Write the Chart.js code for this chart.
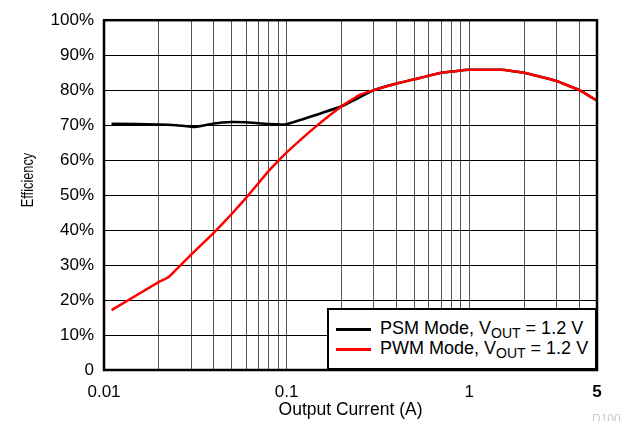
<!DOCTYPE html>
<html>
<head>
<meta charset="utf-8">
<script src="https://cdn.jsdelivr.net/npm/chart.js@4"></script>
<style>
  body { margin: 0; background: #fff; overflow: hidden; }
  #wrap { position: relative; width: 629px; height: 421px; font-family: "Liberation Sans", Arial, sans-serif; }
  #legend {
    position: absolute; left: 327px; top: 308px; width: 270px; height: 62px;
    border: 2px solid #000; background: #fff; padding-top: 8px; box-sizing: border-box;
  }
  .row { height: 20px; line-height: 20px; font-size: 18px; color: #000; white-space: nowrap; }
  .swatch { display: inline-block; width: 35px; height: 2.5px; margin-left: 7px; margin-right: 9px; vertical-align: middle; }
  .row sub { font-size: 14px; vertical-align: -4px; line-height: 0; }
  #tag { position: absolute; left: 592px; top: 412px; font-size: 12px; color: #c8c8c8; }
</style>
</head>
<body>
<div id="wrap">
  <canvas id="c" width="629" height="421"></canvas>
  <div id="legend">
    <div class="row"><span class="swatch" style="background:#000"></span><span>PSM Mode, V<sub>OUT</sub> = 1.2 V</span></div>
    <div class="row"><span class="swatch" style="background:#ff0000"></span><span>PWM Mode, V<sub>OUT</sub> = 1.2 V</span></div>
  </div>
  <span id="tag">D100</span>
</div>
<script>
// output current (A) and efficiency (%)
const psmCurrent = [0.011, 0.02, 0.025, 0.0315, 0.04, 0.05, 0.06, 0.08, 0.1, 0.2, 0.3, 0.4, 0.5, 0.7, 1, 1.5, 2, 3, 4, 5];
const psmEff =     [70.4, 70.2, 70.0, 69.5, 70.5, 70.9, 70.8, 70.3, 70.3, 75.4, 80.0, 81.9, 83.1, 85.0, 85.8, 85.8, 85.0, 82.6, 80.0, 77.0];

const pwmCurrent = [0.011, 0.02, 0.0225, 0.03, 0.04, 0.05, 0.06, 0.07, 0.08, 0.09, 0.1, 0.14, 0.2, 0.25, 0.3, 0.4, 0.5, 0.7, 1, 1.5, 2, 3, 4, 5];
const pwmEff =     [17.1, 25.2, 26.5, 33.0, 39.3, 44.6, 49.2, 53.4, 57.0, 59.8, 62.2, 69.0, 75.4, 78.6, 80.0, 81.9, 83.1, 85.0, 85.8, 85.8, 85.0, 82.6, 80.0, 77.0];

const xGrid = [0.01, 0.02, 0.03, 0.04, 0.05, 0.06, 0.07, 0.08, 0.09, 0.1, 0.2, 0.3, 0.4, 0.5, 0.6, 0.7, 0.8, 0.9, 1, 2, 3, 4, 5];
const xLabels = { 0.01: "0.01", 0.1: "0.1", 1: "1", 5: "5" };

const FONT = "'Liberation Sans', Arial, sans-serif";

const frame = {
  id: "frame",
  afterDatasetsDraw(chart) {
    const { ctx, chartArea: a } = chart;
    ctx.save();
    ctx.strokeStyle = "#000";
    ctx.lineWidth = 2.5;
    ctx.strokeRect(a.left, a.top, a.right - a.left, a.bottom - a.top);
    // y axis title: narrow lettering, a bit above the plot centre like the original
    ctx.translate(29, 180);
    ctx.rotate(-Math.PI / 2);
    ctx.scale(0.8, 1);
    ctx.fillStyle = "#000";
    ctx.font = "16px " + FONT;
    ctx.textAlign = "center";
    ctx.textBaseline = "middle";
    ctx.fillText("Efficiency", 0, 0);
    ctx.restore();
  }
};

new Chart(document.getElementById("c"), {
  type: "line",
  data: {
    datasets: [
      {
        label: "PWM Mode",
        data: pwmCurrent.map((x, i) => ({ x, y: pwmEff[i] })),
        borderColor: "#ff0000",
        borderWidth: 2.5,
        pointRadius: 0,
        tension: 0.1,
        order: 0,
      },
      {
        label: "PSM Mode",
        data: psmCurrent.map((x, i) => ({ x, y: psmEff[i] })),
        borderColor: "#000",
        borderWidth: 2.5,
        pointRadius: 0,
        tension: 0.1,
        order: 1,
      },
    ],
  },
  options: {
    responsive: false,
    animation: false,
    layout: { padding: { top: 19, right: 32, left: 0, bottom: 0 } },
    plugins: { legend: { display: false }, tooltip: { enabled: false } },
    scales: {
      x: {
        type: "logarithmic",
        min: 0.01,
        max: 5,
        afterBuildTicks: (s) => { s.ticks = xGrid.map((v) => ({ value: v })); },
        afterFit: (s) => { s.height = 51; },
        grid: { color: "#555", lineWidth: 1, drawTicks: false },
        border: { display: false },
        ticks: {
          autoSkip: false,
          maxRotation: 0,
          padding: 12,
          color: "#000",
          font: (c) => ({ family: FONT, size: 17, weight: c.tick && c.tick.value === 5 ? "bold" : "normal" }),
          callback: (v) => xLabels[v] || "",
        },
        title: {
          display: true,
          text: "Output Current (A)",
          color: "#000",
          font: { family: FONT, size: 17.5 },
          padding: { top: 0, bottom: 0.5 },
        },
      },
      y: {
        min: 0,
        max: 100,
        afterFit: (s) => { s.width = 104; },
        grid: { color: "#000", lineWidth: 1, drawTicks: false },
        border: { display: false },
        ticks: {
          stepSize: 10,
          padding: 10,
          color: "#000",
          font: { family: FONT, size: 17 },
          callback: (v) => (v === 0 ? "0" : v + "%"),
        },
      },
    },
  },
  plugins: [frame],
});
</script>
</body>
</html>
